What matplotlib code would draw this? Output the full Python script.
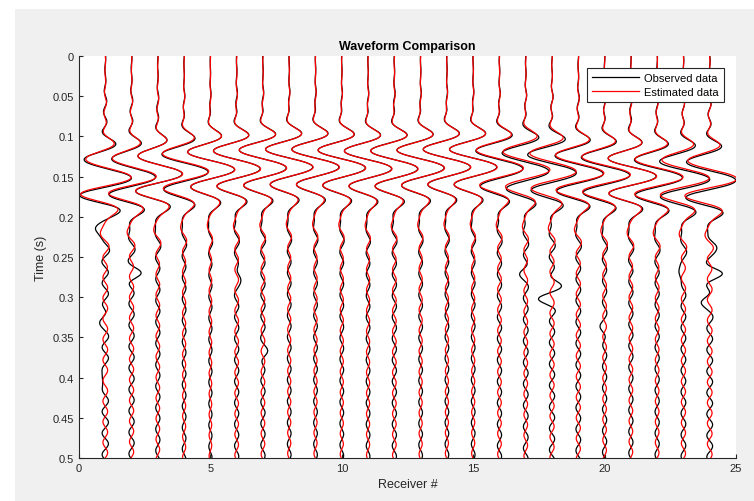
import numpy as np
import matplotlib
matplotlib.use('Agg')
import matplotlib.pyplot as plt
from matplotlib.patches import Rectangle

plt.rcParams['font.family'] = ['Liberation Sans', 'DejaVu Sans']

# receiver numbers
receivers = np.arange(1, 25)

# time of the main left swing (s)
t_obs = [0.129, 0.128, 0.124, 0.122, 0.119, 0.118, 0.117, 0.116, 0.116, 0.117, 0.118, 0.118,
         0.117, 0.116, 0.116, 0.118, 0.121, 0.123, 0.124, 0.126, 0.127, 0.129, 0.131, 0.132]
t_est = [0.128, 0.127, 0.124, 0.121, 0.119, 0.118, 0.117, 0.116, 0.116, 0.117, 0.118, 0.118,
         0.117, 0.116, 0.116, 0.117, 0.119, 0.121, 0.123, 0.125, 0.127, 0.128, 0.129, 0.130]
# centre of the main energy (s)
t_env = [0.148, 0.146, 0.142, 0.136, 0.132, 0.130, 0.128, 0.127, 0.127, 0.128, 0.129, 0.129,
         0.128, 0.127, 0.127, 0.129, 0.132, 0.135, 0.138, 0.140, 0.142, 0.144, 0.146, 0.148]
# peak swing (receiver units)
amp_obs = [1.10, 1.00, 1.00, 1.00, 1.00, 1.00, 1.00, 1.00, 1.00, 1.00, 1.00, 1.00,
           1.00, 1.00, 1.00, 1.00, 1.00, 1.05, 1.05, 1.05, 1.05, 1.05, 1.10, 1.10]
amp_est = [1.05, 1.00, 1.00, 1.00, 1.00, 1.00, 1.00, 1.00, 1.00, 1.00, 1.00, 1.00,
           1.00, 1.00, 1.00, 1.00, 1.00, 1.00, 1.05, 1.05, 1.05, 1.05, 1.05, 1.10]
# size of the small ringing on each trace
coda_obs = [0.12, 0.10, 0.08, 0.07, 0.06, 0.08, 0.08, 0.07, 0.07, 0.07, 0.07, 0.08,
            0.07, 0.07, 0.07, 0.08, 0.09, 0.10, 0.09, 0.08, 0.08, 0.08, 0.09, 0.11]
coda_est = [0.09, 0.08, 0.07, 0.06, 0.05, 0.07, 0.07, 0.06, 0.06, 0.06, 0.06, 0.07,
            0.06, 0.06, 0.06, 0.07, 0.07, 0.08, 0.08, 0.07, 0.07, 0.07, 0.08, 0.09]

# extra bumps seen only on the observed traces: receiver, time, swing
ev_rec = [1, 1, 1, 2, 6, 7, 17, 18, 18, 20, 23, 24, 24, 24]
ev_time = [0.215, 0.327, 0.402, 0.271, 0.275, 0.370, 0.269, 0.284, 0.302, 0.340, 0.270, 0.235, 0.270, 0.304]
ev_amp = [-0.30, -0.20, -0.22, 0.28, 0.18, 0.14, -0.18, 0.28, -0.40, -0.15, -0.25, 0.28, 0.38, -0.32]

t = np.linspace(0, 0.5, 1001)


def trace(tn, tc, a, c, f_main, f_coda):
    width = np.where(t < tc, 0.034, 0.052)
    env = np.exp(-((t - tc) / width) ** 2)
    main = -a * env * np.cos(2 * np.pi * f_main * (t - tn))
    ramp = np.clip((t - 0.01) / 0.1, 0.15, 1)
    ring = c * ramp * np.sin(2 * np.pi * f_coda * (t - tn))
    return main + ring


fig = plt.figure(figsize=(7.54, 5.02), dpi=100)
fig.patch.set_facecolor('white')
fig.patches.append(Rectangle((15 / 754, 0), 1 - 15 / 754, 492 / 502, transform=fig.transFigure,
                             facecolor='#f0f0f0', edgecolor='none', zorder=-10))
ax = fig.add_axes([79 / 754, 1 - 459 / 502, 657 / 754, 402 / 502])

for i, r in enumerate(receivers):
    obs = trace(t_obs[i], t_env[i], amp_obs[i], coda_obs[i], 22.5, 37.5)
    for k in range(len(ev_rec)):
        if ev_rec[k] == r:
            obs += ev_amp[k] * np.exp(-((t - ev_time[k]) / 0.012) ** 2) * np.cos(2 * np.pi * 20 * (t - ev_time[k]))
    est = trace(t_est[i], t_env[i], amp_est[i], coda_est[i], 22.5, 39.0)
    ax.plot(r + obs, t, color='black', lw=0.9, label='Observed data' if i == 0 else None)
    ax.plot(r + est, t, color='red', lw=0.9, label='Estimated data' if i == 0 else None)

ax.set_xlim(0, 25)
ax.set_ylim(0.5, 0)
ax.set_xticks([0, 5, 10, 15, 20, 25])
ax.set_yticks(np.arange(0, 0.51, 0.05))
ax.set_yticklabels(['%g' % v for v in np.round(np.arange(0, 0.51, 0.05), 2)])
for s in ['top', 'right']:
    ax.spines[s].set_visible(False)
for s in ['left', 'bottom']:
    ax.spines[s].set_color('#262626')
ax.tick_params(direction='in', colors='#262626', labelsize=8, length=3)
ax.set_xlabel('Receiver #', fontsize=9, color='#262626')
ax.set_ylabel('Time (s)', fontsize=9, color='#262626')
ax.set_title('Waveform Comparison', fontsize=9, fontweight='bold', color='black', pad=5)
leg = ax.legend(loc='upper right', fontsize=8, frameon=True, fancybox=False,
                edgecolor='#262626', framealpha=1, borderpad=0.45, handlelength=4.2,
                labelspacing=0.35, borderaxespad=1.1, handletextpad=0.5)
leg.get_frame().set_linewidth(0.8)

fig.savefig('out.png', dpi=100)
